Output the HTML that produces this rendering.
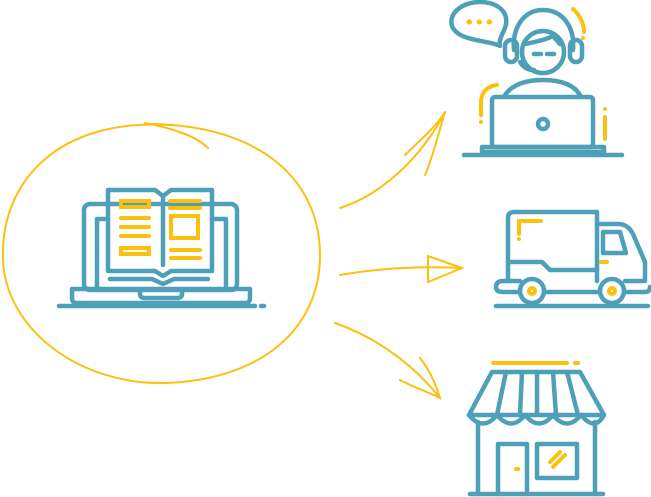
<!DOCTYPE html>
<html><head><style>html,body{margin:0;padding:0;background:#fff}svg{display:block}</style></head><body>
<svg width="651" height="497" viewBox="0 0 651 497" xmlns="http://www.w3.org/2000/svg">
<g fill="none" stroke="#fcc00f" stroke-width="2" stroke-linecap="round">
<path d="M170 125 C60 118 0 180 3 260 C6 330 80 385 165 383 C260 380 320 330 320 255 C320 180 260 125 150 124"/>
<path d="M145 123 C170 128 195 135 208 148"/>
<path d="M340 208 C380 195 420 160 445 112"/>
<path d="M405 155 C420 140 435 128 445 112 C440 128 432 160 425 175"/>
<path d="M340 275 C380 268 420 266 462 268"/>
<path d="M428 256 L462 268 L428 282 Z"/>
<path d="M335 323 C370 335 410 360 440 398"/>
<path d="M400 380 C415 388 428 392 440 398 C436 385 430 370 420 358"/>
</g>
<g fill="none" stroke="#4e9fb8" stroke-width="4.5" stroke-linecap="round" stroke-linejoin="round">
<!-- laptop book -->
<rect x="84" y="204" width="153" height="86" rx="6"/>
<path d="M97 288 V219 H108 M212 219 H226 V288"/>
<path d="M72 289 H250 V298 Q250 303 245 303 H77 Q72 303 72 298 Z"/>
<path d="M140 290 V294 Q140 298 145 298 H177 Q182 298 182 294 V290"/>
<path d="M59 306 H255 M261 306 H264"/>
<path d="M108 190 H155 L163 196 L171 190 H212 V271 H171 L163 276 L155 271 H108 Z"/>
<path d="M163 196 V265"/>
<path d="M110 279 H152 L163 284 L174 279 H208"/>
<!-- agent -->
<path d="M500 46 C490 40 458 42 452 26 C448 12 464 2 480 2 C498 2 508 12 506 24 C505 32 498 38 500 46 Z"/>
<circle cx="543" cy="52" r="21"/>
<path d="M514 50 C512 26 525 10 543 10 C562 10 575 26 573 50"/>
<path d="M525 44 C535 42 545 40 553 36 L560 44"/>
<rect x="505" y="40" width="12" height="22" rx="6"/>
<rect x="570" y="40" width="12" height="22" rx="6"/>
<path d="M520 62 C524 68 528 70 534 70"/>
<path d="M534 54 H541 M547 54 H554"/>
<path d="M505 95 C512 85 525 80 543 80 C562 80 574 85 580 95"/>
<rect x="492" y="97" width="101" height="50" rx="3"/>
<circle cx="543" cy="124" r="5"/>
<path d="M482 147 H604 V152 H482 Z"/>
<path d="M464 155 H622"/>
<!-- truck -->
<path d="M508 281 V218 Q508 212 514 212 H597 V281"/>
<path d="M597 224 H618 Q628 224 633 234 L645 262 V281 H625"/>
<path d="M603 232 H620 L626 253 H603 Z"/>
<path d="M508 262 H542 L550 270 H597"/>
<path d="M520 281 H503 Q496 281 496 287 Q496 292 503 292 H520 M545 292 H600 M625 292 H645 Q650 292 650 287"/>
<circle cx="532" cy="291" r="12" fill="#fff"/>
<circle cx="612" cy="291" r="12" fill="#fff"/>
<path d="M496 306 H648"/>
<!-- store -->
<path d="M492 372 H580 L604 415 H469 Z"/>
<path d="M469 415 Q483 432 497 415 Q511 432 525 415 Q539 432 553 415 Q567 432 581 415 Q595 432 604 415"/>
<path d="M506 372 L497 415 M522 372 L520 415 M537 372 L537 415 M553 372 L556 415 M567 372 L578 415"/>
<path d="M478 422 V494 M595 422 V494"/>
<path d="M498 494 V444 H527 V494"/>
<rect x="537" y="444" width="40" height="34"/>
<path d="M470 494 H603"/>
</g>
<g fill="none" stroke="#fcc00f" stroke-width="4" stroke-linecap="round">
<rect x="121" y="201" width="28" height="6"/>
<path d="M121 218 H149 M121 227 H149 M121 236 H149"/>
<rect x="121" y="248" width="28" height="6"/>
<path d="M170 201 H200 M170 208 H200 M171 250 H200 M171 258 H200"/>
<rect x="171" y="216" width="27" height="22"/>
<path d="M469 22 h0.5 M479 22 h0.5 M489 22 h0.5" stroke-width="5"/>
<path d="M573 9 C580 15 584 24 584 32 M583 38 V38"/>
<path d="M497 85 C488 86 481 92 481 102 V115 M481 122 V122"/>
<path d="M605 109 V109 M605 117 V139"/>
<path d="M519 234 V221 H541 M519 239 V239"/>
<path d="M601 262 H607"/>
<circle cx="532" cy="291" r="3"/>
<circle cx="612" cy="291" r="3"/>
<path d="M493 363 H567 M575 363 H578"/>
<path d="M550 462 L560 452 M553 467 L565 455"/>
<path d="M516 469 H518"/>
</g>
</svg>
</body></html>
